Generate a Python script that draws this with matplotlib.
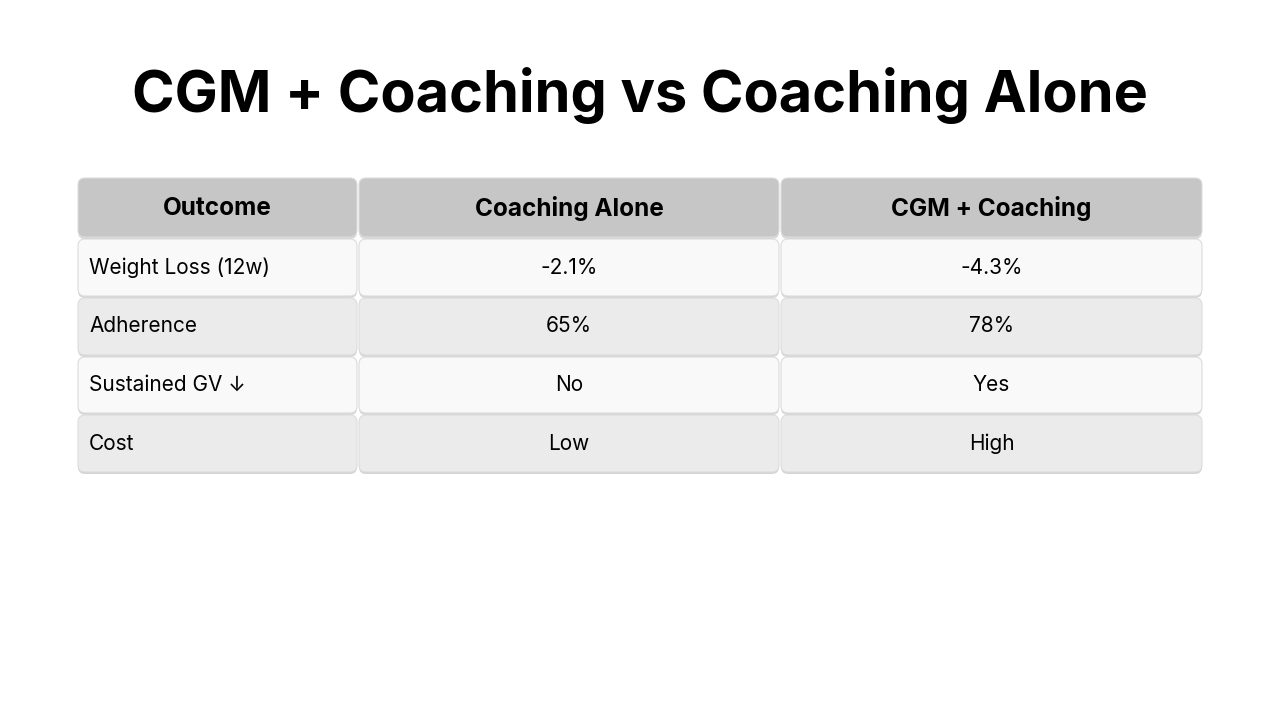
import matplotlib
matplotlib.use("Agg")
import matplotlib.pyplot as plt
from matplotlib.patches import FancyBboxPatch

title = "CGM + Coaching vs Coaching Alone"
headers = ["Outcome", "Coaching Alone", "CGM + Coaching"]
outcomes = ["Weight Loss (12w)", "Adherence", "Sustained GV ↓", "Cost"]
coaching_alone = ["-2.1%", "65%", "No", "Low"]
cgm_coaching = ["-4.3%", "78%", "Yes", "High"]

fam = ["Inter", "DejaVu Sans"]
fig = plt.figure(figsize=(12.8, 7.2), dpi=100)
ax = fig.add_axes([0, 0, 1, 1])
ax.set_xlim(0, 1280); ax.set_ylim(720, 0); ax.axis("off")

ax.text(640, 96, title, ha="center", va="center", fontsize=41.5, fontweight="bold", family=fam)

col_x = [77, 358, 780, 1203]
row_y = [177, 238, 297, 356, 414, 473]
row_cols = ["#c6c6c6", "#f9f9f9", "#ebebeb", "#f9f9f9", "#ebebeb"]
rows = [headers] + [[o, a, c] for o, a, c in zip(outcomes, coaching_alone, cgm_coaching)]

for r, vals in enumerate(rows):
    y0, y1 = row_y[r], row_y[r + 1]
    for c in range(3):
        x0, x1 = col_x[c], col_x[c + 1]
        pad = 1
        sh = FancyBboxPatch((x0 + pad, y0 + pad + 2), x1 - x0 - 2 * pad, y1 - y0 - 2 * pad,
                            boxstyle="round,pad=0,rounding_size=7", fc="#b8b8b8", ec="none", alpha=0.6, zorder=1)
        ax.add_patch(sh)
        p = FancyBboxPatch((x0 + pad, y0 + pad), x1 - x0 - 2 * pad, y1 - y0 - 2 * pad,
                           boxstyle="round,pad=0,rounding_size=7", fc=row_cols[r], ec="#dcdcdc", lw=0.8, zorder=2)
        ax.add_patch(p)
        cy = (y0 + y1) / 2
        if r == 0:
            ax.text((x0 + x1) / 2, cy + 1, vals[c], ha="center", va="center", fontsize=17.5,
                    fontweight="bold", family=fam, zorder=3)
        elif c == 0:
            ax.text(x0 + 12, cy, vals[c], ha="left", va="center", fontsize=15, family=fam, zorder=3)
        else:
            ax.text((x0 + x1) / 2, cy, vals[c], ha="center", va="center", fontsize=15, family=fam, zorder=3)

fig.savefig("out.png", dpi=100, facecolor="white")
